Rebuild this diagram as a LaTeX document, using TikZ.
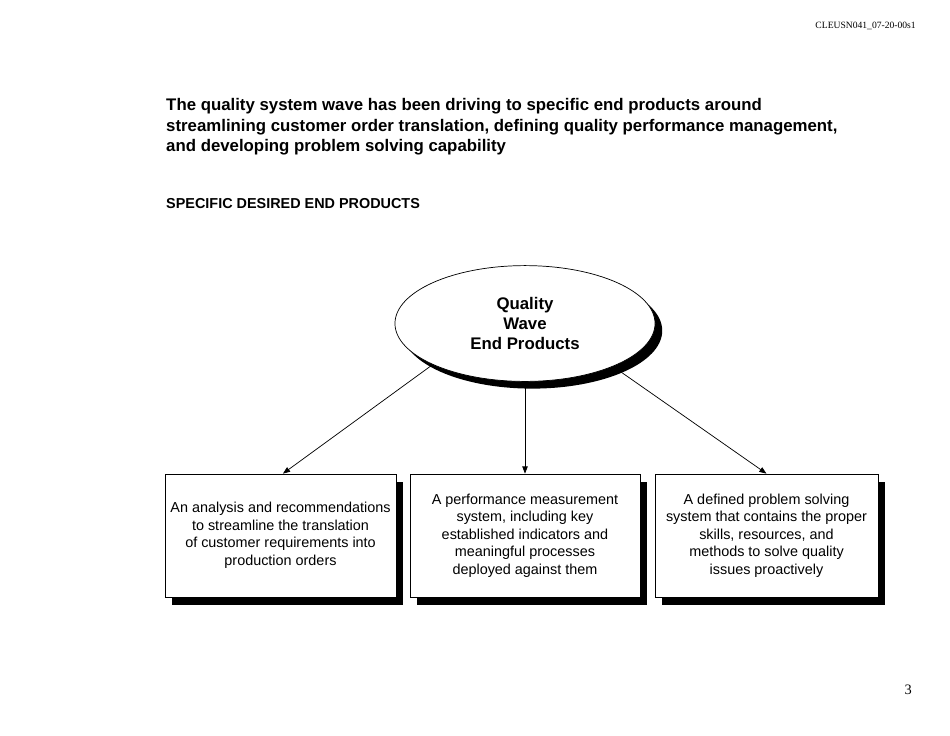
\documentclass[tikz,border=0pt]{standalone}
\usepackage{fontspec}
\setmainfont{Liberation Sans}
\newfontfamily\timesfont{Liberation Serif}
\usetikzlibrary{shapes.geometric}
\usetikzlibrary{arrows,arrows.meta}
\usetikzlibrary{shadows}

\begin{document}
\begin{tikzpicture}[x=0.8333pt,y=-0.8333pt,
	prodbox/.style={draw,fill=white,line width=0.6pt,minimum height=102.5pt,inner sep=2pt,align=center,font=\fontsize{12}{14.6}\selectfont,
		drop shadow={shadow xshift=6pt,shadow yshift=-6.5pt,fill=black,opacity=1}},
	waveell/.style={ellipse,draw,fill=white,line width=0.6pt,minimum width=216.7pt,minimum height=96.5pt,inner sep=0pt,align=center,font=\bfseries\fontsize{14}{16.8}\selectfont,
		drop shadow={shadow xshift=6pt,shadow yshift=-6pt,fill=black,opacity=1}}]
		\useasboundingbox (0,0) rectangle (950,735);
		%页眉与标题
		\node (H) [anchor=base east,inner sep=0pt,font=\timesfont\fontsize{8}{10}\selectfont] at (916,28) {CLEUSN041\_07-20-00s1};
		\node (T) [anchor=north west,inner sep=0pt,align=left,font=\bfseries\fontsize{14}{16.8}\selectfont] at (166,98.5) {The quality system wave has been driving to specific end products around\\streamlining customer order translation, defining quality performance management,\\and developing problem solving capability};
		\node (S) [anchor=base west,inner sep=0pt,font=\bfseries\fontsize{12}{14}\selectfont] at (166,208.3) {SPECIFIC DESIRED END PRODUCTS};
		
		%定义具体形状
		\node (Q) [waveell] at (525,323.5) {Quality\\Wave\\End Products};
		\node (B1) [prodbox,minimum width=192.5pt] at (280.5,535.5) {An analysis and recommendations\\to streamline the translation\\of customer requirements into\\production orders};
		\node (B2) [prodbox,minimum width=191.7pt] at (525,535.5) {A performance measurement\\system, including key\\established indicators and\\meaningful processes\\deployed against them};
		\node (B3) [prodbox,minimum width=185.8pt] at (766.5,535.5) {A defined problem solving\\system that contains the proper\\skills, resources, and\\methods to solve quality\\issues proactively};
		\node (P) [anchor=base east,inner sep=0pt,font=\timesfont\fontsize{12}{14}\selectfont] at (912,694) {3};
		
		%连接具体形状
		\draw[line width=0.6pt,arrows={-Triangle[length=6pt,width=4.5pt]}](Q.204.6) -- ([xshift=2pt]B1.north);
		\draw[line width=0.6pt,arrows={-Triangle[length=6pt,width=4.5pt]}](Q.south) -- (B2.north);
		\draw[line width=0.6pt,arrows={-Triangle[length=6pt,width=4.5pt]}](Q.334) -- (B3.north);
	\end{tikzpicture}
\end{document}
